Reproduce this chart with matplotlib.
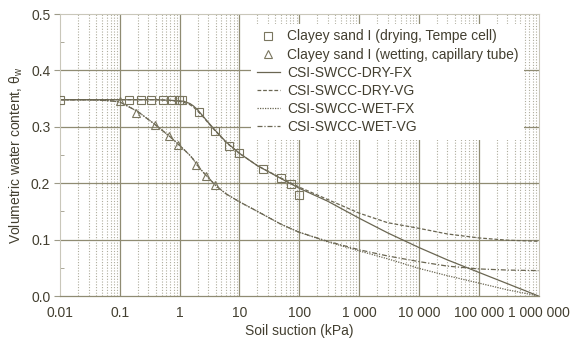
import matplotlib
matplotlib.use("Agg")
import matplotlib.pyplot as plt
from matplotlib.ticker import FixedLocator, NullFormatter, MultipleLocator

plt.rcParams['font.family'] = ['Liberation Sans', 'DejaVu Sans']

# ---- data ----
dry_s = [0.01, 0.14, 0.23, 0.33, 0.52, 0.75, 0.96, 1.1, 2.1, 3.9, 6.8, 10, 25, 49, 72, 100]
dry_t = [0.348, 0.348, 0.348, 0.348, 0.348, 0.348, 0.348, 0.348, 0.326, 0.293, 0.266, 0.254, 0.226, 0.210, 0.199, 0.179]

wet_s = [0.1, 0.19, 0.39, 0.66, 0.95, 1.9, 2.8, 3.9]
wet_t = [0.346, 0.325, 0.304, 0.284, 0.268, 0.232, 0.213, 0.197]

curve_s = [0.01, 0.03, 0.05, 0.07, 0.1, 0.2, 0.4, 0.7, 1, 1.2, 1.5, 1.7, 2, 2.5, 3, 4, 6, 10,
           20, 50, 100, 300, 1000, 3000, 1e4, 3e4, 1e5, 3e5, 1e6]
dry_fx = [0.348, 0.348, 0.348, 0.348, 0.348, 0.348, 0.348, 0.347, 0.346, 0.345, 0.341, 0.337,
          0.330, 0.318, 0.308, 0.293, 0.273, 0.253, 0.231, 0.208, 0.191, 0.168, 0.138, 0.112,
          0.086, 0.064, 0.042, 0.022, 0.0]
dry_vg = [0.348, 0.348, 0.348, 0.348, 0.348, 0.348, 0.348, 0.347, 0.345, 0.343, 0.339, 0.335,
          0.328, 0.317, 0.307, 0.292, 0.272, 0.253, 0.231, 0.209, 0.193, 0.171, 0.147, 0.130,
          0.120, 0.110, 0.103, 0.099, 0.097]
wet_fx = [0.348, 0.348, 0.347, 0.346, 0.344, 0.327, 0.303, 0.282, 0.267, 0.259, 0.249, 0.242,
          0.231, 0.219, 0.210, 0.196, 0.181, 0.167, 0.150, 0.127, 0.113, 0.096, 0.080, 0.066,
          0.049, 0.036, 0.023, 0.011, 0.0]
wet_vg = [0.348, 0.348, 0.347, 0.346, 0.344, 0.327, 0.303, 0.282, 0.267, 0.259, 0.249, 0.242,
          0.231, 0.219, 0.210, 0.196, 0.181, 0.167, 0.150, 0.127, 0.113, 0.097, 0.082, 0.071,
          0.061, 0.053, 0.048, 0.046, 0.045]

x_ticks = [0.01, 0.1, 1, 10, 100, 1000, 1e4, 1e5, 1e6]
x_tick_labels = ['0.01', '0.1', '1', '10', '100', '1 000', '10 000', '100 000', '1 000 000']
y_ticks = [0.0, 0.1, 0.2, 0.3, 0.4, 0.5]
y_tick_labels = ['0.0', '0.1', '0.2', '0.3', '0.4', '0.5']

labels = ['Clayey sand I (drying, Tempe cell)', 'Clayey sand I (wetting, capillary tube)',
          'CSI-SWCC-DRY-FX', 'CSI-SWCC-DRY-VG', 'CSI-SWCC-WET-FX', 'CSI-SWCC-WET-VG']

# ---- styling ----
TXT = '#433f30'
GRID = '#8f8b72'
MINOR = '#aeac9c'
LINE = '#6a6652'
MK = '#7a765f'
FS = 10

fig = plt.figure(figsize=(5.7, 3.4), dpi=100)
ax = fig.add_axes([60/570, 44/340, 478.5/570, 282/340])
ax.set_xscale('log')
ax.set_xlim(0.01, 1e6)
ax.set_ylim(0.0, 0.5)

# grid
minor_x = [m * 10.0**e for e in range(-2, 6) for m in range(2, 10)]
for xm in minor_x:
    ax.axvline(xm, color=MINOR, lw=0.8, ls=(0, (1, 1.5)), zorder=0)
for xv in x_ticks[1:-1]:
    ax.axvline(xv, color=GRID, lw=0.9, zorder=0.5)
for yv in y_ticks[1:-1]:
    ax.axhline(yv, color=GRID, lw=0.9, zorder=0.5)

# curves
l1, = ax.plot(curve_s, dry_fx, color=LINE, lw=0.9, ls='-', zorder=2)
l2, = ax.plot(curve_s, dry_vg, color=LINE, lw=0.9, ls=(0, (3, 1.5)), zorder=2)
l3, = ax.plot(curve_s, wet_fx, color=LINE, lw=0.9, ls=(0, (1, 1)), zorder=2)
l4, = ax.plot(curve_s, wet_vg, color=LINE, lw=0.9, ls=(0, (4, 1.5, 1, 1.5)), zorder=2)
m1, = ax.plot(dry_s, dry_t, ls='none', marker='s', ms=5.2, mfc='none', mec=MK, mew=0.8, zorder=3)
m2, = ax.plot(wet_s, wet_t, ls='none', marker='^', ms=5.8, mfc='none', mec=MK, mew=0.8, zorder=3)

# ticks
ax.xaxis.set_major_locator(FixedLocator(x_ticks))
ax.set_xticklabels(x_tick_labels)
ax.xaxis.set_minor_formatter(NullFormatter())
ax.tick_params(axis='x', which='both', length=0, pad=7, labelsize=FS, colors=TXT)
ax.set_yticks(y_ticks)
ax.set_yticklabels(y_tick_labels)
ax.yaxis.set_minor_locator(MultipleLocator(0.05))
ax.tick_params(axis='y', which='major', length=4, direction='out', pad=3, labelsize=FS,
               colors=TXT, color='#9d9a88')
ax.tick_params(axis='y', which='minor', length=3, direction='in', color='#9d9a88')

for side in ['left', 'right', 'top']:
    ax.spines[side].set_color('#c9c7ba')
    ax.spines[side].set_linewidth(0.8)
ax.spines['bottom'].set_color(GRID)
ax.spines['bottom'].set_linewidth(0.9)

ax.set_xlabel('Soil suction (kPa)', fontsize=FS, color=TXT, labelpad=3)
ax.set_ylabel('Volumetric water content, θ$_\\mathregular{w}$', fontsize=FS, color=TXT, labelpad=4)

leg = ax.legend([m1, m2, l1, l2, l3, l4], labels, loc='upper right',
                bbox_to_anchor=(0.97, 0.965), fontsize=FS, frameon=True, fancybox=False,
                facecolor='white', edgecolor='none', framealpha=1.0, labelspacing=0.3,
                handlelength=1.7, handletextpad=0.5, borderpad=0.4, borderaxespad=0.0)
for t in leg.get_texts():
    t.set_color(TXT)
leg.set_zorder(5)

fig.savefig('out.png', dpi=100, facecolor='white')
